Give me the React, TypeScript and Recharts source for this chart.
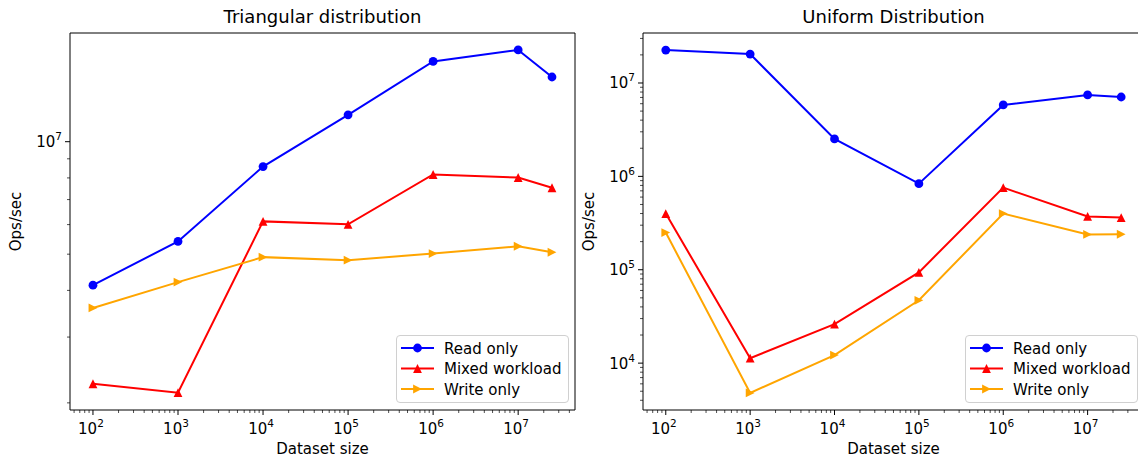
import React from "react";
import { LineChart, Line, XAxis, YAxis, ReferenceArea, Legend } from "recharts";

/* ---------- data ---------- */

const datasetSizes = [1e2, 1e3, 1e4, 1e5, 1e6, 1e7, 2.5e7];

// Triangular distribution, ops/sec
const triReadOnly = [4.13e6, 5.41e6, 8.58e6, 1.18e7, 1.64e7, 1.76e7, 1.49e7];
const triMixed = [2.25e6, 2.13e6, 6.12e6, 6.01e6, 8.17e6, 8.02e6, 7.53e6];
const triWriteOnly = [3.59e6, 4.21e6, 4.91e6, 4.82e6, 5.02e6, 5.25e6, 5.06e6];

// Uniform distribution, ops/sec
const uniReadOnly = [2.25e7, 2.04e7, 2.52e6, 8.36e5, 5.82e6, 7.45e6, 7.08e6];
const uniMixed = [4.0e5, 1.13e4, 2.61e4, 9.38e4, 7.57e5, 3.72e5, 3.62e5];
const uniWriteOnly = [2.5e5, 4.8e3, 1.22e4, 4.71e4, 4.0e5, 2.39e5, 2.4e5];

const seriesNames = ["Read only", "Mixed workload", "Write only"];
const seriesColors = ["#0000ff", "#ff0000", "#ffa500"];
const markerKinds = ["circle", "triangleUp", "triangleRight"];

const xMajorTicks = [1e2, 1e3, 1e4, 1e5, 1e6, 1e7];
const triYMajorTicks = [1e7];
const uniYMajorTicks = [1e4, 1e5, 1e6, 1e7];

// axis limits (matplotlib autoscale with 5% log margins)
const xDomain = [53.7, 4.66e7];
const triYDomain = [1.914e6, 1.954e7];
const uniYDomain = [3148, 3.43e7];

const FONT = "'DejaVu Sans', sans-serif";
const LABEL_SIZE = 15;

/* ---------- helpers ---------- */

function minorTicks(domain: number[]) {
  const out: number[] = [];
  const lo = Math.floor(Math.log10(domain[0]));
  const hi = Math.ceil(Math.log10(domain[1]));
  for (let e = lo; e <= hi; e++) {
    for (let m = 2; m <= 9; m++) {
      const v = m * Math.pow(10, e);
      if (v >= domain[0] && v <= domain[1]) out.push(v);
    }
  }
  return out;
}

function isMajor(v: number) {
  const l = Math.log10(v);
  return Math.abs(l - Math.round(l)) < 1e-6;
}

function buildRows(read: number[], mixed: number[], write: number[]) {
  return datasetSizes.map((size, i) => ({ size, read: read[i], mixed: mixed[i], write: write[i] }));
}

function Pow10({ x, y, exp, anchor }: { x: number; y: number; exp: number; anchor: string }) {
  return (
    <text x={x} y={y} textAnchor={anchor} fontFamily={FONT} fontSize={LABEL_SIZE} fill="#000">
      10
      <tspan dy={-7} fontSize={10.5}>
        {exp}
      </tspan>
    </text>
  );
}

function XTick(props: any) {
  const { x, y, payload } = props;
  const v = payload.value;
  const major = isMajor(v);
  return (
    <g>
      <line x1={x} x2={x} y1={y} y2={y + (major ? 5 : 3)} stroke="#000" strokeWidth={major ? 1 : 0.7} />
      {major && <Pow10 x={x - 2} y={y + 24} exp={Math.round(Math.log10(v))} anchor="middle" />}
    </g>
  );
}

function YTick(props: any) {
  const { x, y, payload } = props;
  const v = payload.value;
  const major = isMajor(v);
  return (
    <g>
      <line x1={x} x2={x - (major ? 5 : 3)} y1={y} y2={y} stroke="#000" strokeWidth={major ? 1 : 0.7} />
      {major && <Pow10 x={x - 8} y={y + 5.5} exp={Math.round(Math.log10(v))} anchor="end" />}
    </g>
  );
}

function Marker({ cx, cy, kind, color }: { cx: number; cy: number; kind: string; color: string }) {
  const r = 4.4;
  if (kind === "circle") return <circle cx={cx} cy={cy} r={r} fill={color} />;
  if (kind === "triangleUp")
    return <polygon points={`${cx},${cy - r} ${cx - r},${cy + r} ${cx + r},${cy + r}`} fill={color} />;
  return <polygon points={`${cx + r},${cy} ${cx - r},${cy - r} ${cx - r},${cy + r}`} fill={color} />;
}

function LegendBox() {
  return (
    <div
      style={{
        width: 173,
        height: 68,
        boxSizing: "border-box",
        border: "1px solid #d0d0d0",
        borderRadius: 4,
        background: "rgba(255,255,255,0.8)",
        position: "relative",
      }}
    >
      <svg width={171} height={66} style={{ position: "absolute", left: 0, top: 0 }}>
        {seriesNames.map((name, i) => {
          const cy = 12 + i * 20.5;
          return (
            <g key={name}>
              <line x1={4} x2={37} y1={cy} y2={cy} stroke={seriesColors[i]} strokeWidth={2} />
              <Marker cx={20.5} cy={cy} kind={markerKinds[i]} color={seriesColors[i]} />
              <text x={47} y={cy + 5.5} fontFamily={FONT} fontSize={LABEL_SIZE} fill="#000">
                {name}
              </text>
            </g>
          );
        })}
      </svg>
    </div>
  );
}

/* ---------- panel ---------- */

interface PanelProps {
  title: string;
  rows: { size: number; read: number; mixed: number; write: number }[];
  yDomain: number[];
  yMajor: number[];
  left: number;
  width: number;
  marginRight: number;
}

function Panel({ title, rows, yDomain, yMajor, left, width, marginRight }: PanelProps) {
  const plotLeft = 70;
  const plotRight = width - marginRight;
  const cx = (plotLeft + plotRight) / 2;
  const xTicks = [...xMajorTicks, ...minorTicks(xDomain)].sort((a, b) => a - b);
  const yTicks = [...yMajor, ...minorTicks(yDomain)].sort((a, b) => a - b);
  const keys = ["read", "mixed", "write"];

  return (
    <div style={{ position: "absolute", left, top: 0 }}>
      <LineChart width={width} height={466} data={rows} margin={{ top: 33, right: marginRight, bottom: 0, left: 0 }}>
        <XAxis
          dataKey="size"
          type="number"
          scale="log"
          domain={xDomain}
          allowDataOverflow
          ticks={xTicks}
          interval={0}
          tick={(p: any) => <XTick {...p} />}
          tickSize={0}
          tickMargin={0}
          tickLine={false}
          axisLine={false}
          height={56}
        />
        <YAxis
          type="number"
          scale="log"
          domain={yDomain}
          allowDataOverflow
          ticks={yTicks}
          interval={0}
          tick={(p: any) => <YTick {...p} />}
          tickSize={0}
          tickMargin={0}
          tickLine={false}
          axisLine={false}
          width={70}
        />
        <ReferenceArea
          x1={xDomain[0]}
          x2={xDomain[1]}
          y1={yDomain[0]}
          y2={yDomain[1]}
          fill="none"
          fillOpacity={0}
          stroke="#000"
          strokeWidth={1}
          ifOverflow="visible"
        />
        {keys.map((k, i) => (
          <Line
            key={k}
            dataKey={k}
            name={seriesNames[i]}
            stroke={seriesColors[i]}
            strokeWidth={2}
            isAnimationActive={false}
            activeDot={false}
            dot={(p: any) => (
              <Marker key={`${k}-${p.index}`} cx={p.cx} cy={p.cy} kind={markerKinds[i]} color={seriesColors[i]} />
            )}
          />
        ))}
        <Legend
          layout="vertical"
          align="center"
          verticalAlign="middle"
          wrapperStyle={{ left: plotRight - 6 - 173, top: 335, width: 173, height: 68 }}
          content={() => <LegendBox />}
        />
        <text x={cx} y={23} textAnchor="middle" fontFamily={FONT} fontSize={18} fill="#000">
          {title}
        </text>
        <text x={cx} y={454} textAnchor="middle" fontFamily={FONT} fontSize={LABEL_SIZE} fill="#000">
          Dataset size
        </text>
        <text
          x={0}
          y={0}
          transform={`translate(21, 221.5) rotate(-90)`}
          textAnchor="middle"
          fontFamily={FONT}
          fontSize={LABEL_SIZE}
          fill="#000"
        >
          Ops/sec
        </text>
      </LineChart>
    </div>
  );
}

export default function App() {
  return (
    <div
      style={{
        position: "absolute",
        left: 0,
        top: 0,
        width: 1138,
        height: 466,
        overflow: "hidden",
        background: "#fff",
        fontFamily: FONT,
      }}
    >
      <Panel
        title="Triangular distribution"
        rows={buildRows(triReadOnly, triMixed, triWriteOnly)}
        yDomain={triYDomain}
        yMajor={triYMajorTicks}
        left={0}
        width={580}
        marginRight={5}
      />
      <Panel
        title="Uniform Distribution"
        rows={buildRows(uniReadOnly, uniMixed, uniWriteOnly)}
        yDomain={uniYDomain}
        yMajor={uniYMajorTicks}
        left={573}
        width={571}
        marginRight={0}
      />
    </div>
  );
}
